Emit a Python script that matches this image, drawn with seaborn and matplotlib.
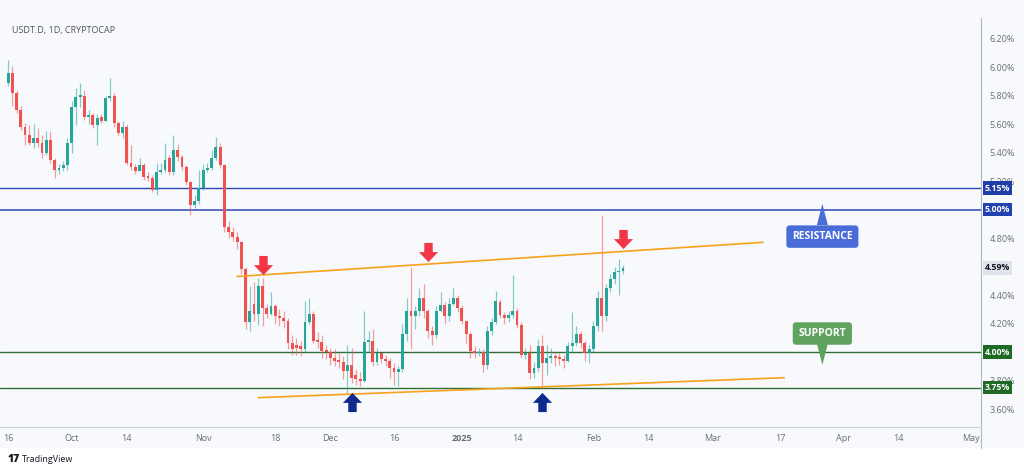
import matplotlib
matplotlib.use("Agg")
import numpy as np
import pandas as pd
import seaborn as sns
import matplotlib.pyplot as plt
import matplotlib.dates as mdates
from matplotlib.path import Path
from matplotlib.patches import Rectangle, Polygon
from matplotlib.transforms import blended_transform_factory

# daily candles of USDT.D from 2024-09-16
start_date = "2024-09-16"
opens = [5.89, 5.96, 5.82, 5.70, 5.58, 5.52, 5.47, 5.50, 5.47, 5.40,
         5.49, 5.35, 5.28, 5.29, 5.31, 5.47, 5.72, 5.79, 5.80, 5.65,
         5.66, 5.59, 5.65, 5.62, 5.78, 5.80, 5.61, 5.54, 5.58, 5.33,
         5.30, 5.27, 5.31, 5.23, 5.22, 5.14, 5.26, 5.28, 5.36, 5.26,
         5.42, 5.37, 5.30, 5.19, 5.03, 5.06, 5.15, 5.28, 5.29, 5.36,
         5.44, 5.31, 4.88, 4.84, 4.81, 4.77, 4.58, 4.21, 4.34, 4.27,
         4.46, 4.31, 4.27, 4.32, 4.25, 4.24, 4.22, 4.06, 4.05, 4.04,
         4.02, 4.21, 4.27, 4.08, 4.07, 4.01, 4.00, 3.96, 3.94, 3.93,
         3.87, 3.91, 3.84, 3.81, 3.80, 4.07, 4.08, 3.93, 3.99, 3.95,
         3.94, 3.89, 3.86, 3.88, 4.13, 4.29, 4.25, 4.29, 4.38, 4.29,
         4.15, 4.12, 4.29, 4.33, 4.25, 4.34, 4.38, 4.31, 4.22, 4.13,
         4.01, 3.99, 4.00, 3.91, 4.15, 4.21, 4.35, 4.26, 4.24, 4.26,
         4.29, 4.19, 3.98, 3.99, 3.85, 3.89, 4.04, 3.92, 3.96, 3.97,
         3.96, 3.95, 3.94, 4.04, 4.06, 4.13, 4.06, 3.99, 4.02, 4.18,
         4.38, 4.25, 4.45, 4.51, 4.56, 4.57]
highs = [6.05, 6.01, 5.84, 5.73, 5.61, 5.59, 5.60, 5.57, 5.52, 5.55,
         5.55, 5.36, 5.32, 5.34, 5.50, 5.76, 5.85, 5.89, 5.84, 5.70,
         5.68, 5.67, 5.67, 5.80, 5.92, 5.82, 5.62, 5.62, 5.60, 5.45,
         5.32, 5.36, 5.33, 5.26, 5.24, 5.33, 5.33, 5.47, 5.38, 5.52,
         5.46, 5.38, 5.31, 5.20, 5.10, 5.28, 5.32, 5.33, 5.42, 5.51,
         5.47, 5.32, 4.92, 4.88, 4.84, 4.78, 4.60, 4.46, 4.49, 4.52,
         4.52, 4.34, 4.42, 4.34, 4.30, 4.29, 4.24, 4.12, 4.10, 4.08,
         4.36, 4.38, 4.29, 4.14, 4.12, 4.05, 4.03, 4.02, 3.99, 3.97,
         4.05, 4.03, 3.88, 3.86, 4.29, 4.15, 4.16, 4.03, 3.99, 3.98,
         3.96, 3.92, 3.90, 4.20, 4.38, 4.60, 4.32, 4.45, 4.48, 4.30,
         4.18, 4.32, 4.42, 4.35, 4.38, 4.45, 4.40, 4.33, 4.22, 4.14,
         4.04, 4.03, 4.02, 4.18, 4.24, 4.43, 4.37, 4.28, 4.29, 4.54,
         4.31, 4.21, 4.03, 4.05, 3.93, 4.09, 4.12, 4.05, 4.03, 4.01,
         3.99, 3.98, 4.07, 4.28, 4.18, 4.15, 4.08, 4.05, 4.22, 4.43,
         4.96, 4.48, 4.55, 4.60, 4.65, 4.61]
lows = [5.87, 5.73, 5.68, 5.56, 5.45, 5.45, 5.43, 5.44, 5.36, 5.38,
        5.33, 5.22, 5.25, 5.27, 5.28, 5.40, 5.59, 5.72, 5.63, 5.60,
        5.57, 5.45, 5.61, 5.62, 5.76, 5.58, 5.52, 5.50, 5.31, 5.28,
        5.25, 5.27, 5.21, 5.20, 5.12, 5.10, 5.25, 5.26, 5.24, 5.24,
        5.34, 5.28, 5.17, 4.96, 5.01, 5.04, 5.14, 5.26, 5.28, 5.35,
        5.29, 4.84, 4.80, 4.78, 4.72, 4.55, 4.16, 4.15, 4.22, 4.19,
        4.18, 4.24, 4.26, 4.20, 4.18, 4.17, 4.02, 3.98, 3.98, 3.97,
        3.99, 4.20, 4.06, 4.03, 3.96, 3.95, 3.91, 3.90, 3.89, 3.81,
        3.71, 3.78, 3.77, 3.76, 3.79, 4.00, 3.90, 3.91, 3.92, 3.90,
        3.82, 3.77, 3.76, 3.86, 4.08, 4.02, 4.16, 4.25, 4.24, 4.10,
        4.05, 4.10, 4.28, 4.20, 4.22, 4.33, 4.28, 4.20, 4.06, 3.96,
        3.96, 3.97, 3.86, 3.88, 4.12, 4.20, 4.24, 4.20, 4.21, 4.24,
        4.17, 3.96, 3.95, 3.81, 3.82, 3.86, 3.75, 3.84, 3.92, 3.90,
        3.91, 3.89, 3.93, 4.00, 4.04, 4.03, 3.94, 3.92, 3.99, 4.15,
        4.15, 4.22, 4.42, 4.48, 4.40, 4.55]
closes = [5.96, 5.82, 5.70, 5.58, 5.52, 5.47, 5.50, 5.47, 5.40, 5.49,
          5.35, 5.28, 5.29, 5.31, 5.47, 5.72, 5.79, 5.80, 5.65, 5.66,
          5.59, 5.64, 5.62, 5.78, 5.80, 5.61, 5.54, 5.58, 5.33, 5.30,
          5.27, 5.31, 5.23, 5.22, 5.14, 5.26, 5.28, 5.35, 5.26, 5.42,
          5.37, 5.30, 5.19, 5.03, 5.06, 5.15, 5.28, 5.29, 5.36, 5.44,
          5.31, 4.88, 4.84, 4.81, 4.77, 4.58, 4.21, 4.29, 4.27, 4.46,
          4.31, 4.27, 4.32, 4.25, 4.24, 4.22, 4.06, 4.02, 4.03, 4.02,
          4.21, 4.27, 4.08, 4.07, 4.01, 4.00, 3.96, 3.94, 3.93, 3.87,
          3.91, 3.82, 3.81, 3.80, 4.07, 4.08, 3.93, 3.99, 3.95, 3.94,
          3.89, 3.86, 3.88, 4.13, 4.29, 4.25, 4.29, 4.38, 4.29, 4.15,
          4.12, 4.29, 4.33, 4.25, 4.34, 4.38, 4.31, 4.22, 4.13, 4.01,
          3.99, 4.00, 3.91, 4.15, 4.21, 4.36, 4.26, 4.24, 4.26, 4.29,
          4.19, 3.98, 3.99, 3.85, 3.89, 4.04, 3.92, 3.96, 3.97, 3.96,
          3.95, 3.94, 4.04, 4.06, 4.13, 4.06, 3.99, 4.02, 4.18, 4.38,
          4.25, 4.45, 4.51, 4.56, 4.57, 4.59]

# horizontal levels
level_values = [5.15, 5.00, 4.00, 3.75]
level_colors = ["#2a49b5", "#5b6dc8", "#2f6f35", "#2f6f35"]
level_box_colors = ["#1f3ea8", "#2242b0", "#1e6a24", "#1e6a24"]
last_price = 4.59

# trend lines
upper_trend_dates = ["2024-11-09", "2025-03-13"]
upper_trend_values = [4.53, 4.77]
lower_trend_dates = ["2024-11-14", "2025-03-18"]
lower_trend_values = [3.68, 3.82]

# arrows
sell_dates = ["2024-11-15", "2024-12-24", "2025-02-08"]
sell_values = [4.61, 4.705, 4.79]
buy_dates = ["2024-12-06", "2025-01-20"]
buy_values = [3.65, 3.65]

tick_dates = ["2024-09-16", "2024-10-01", "2024-10-14", "2024-11-01", "2024-11-18",
              "2024-12-01", "2024-12-16", "2025-01-01", "2025-01-14", "2025-02-01",
              "2025-02-14", "2025-03-01", "2025-03-17", "2025-04-01", "2025-04-14",
              "2025-05-01"]
tick_labels = ["16", "Oct", "14", "Nov", "18", "Dec", "16", "2025", "14", "Feb",
               "14", "Mar", "17", "Apr", "14", "May"]
# 4.00, 4.60 and 5.00 sit under the price boxes
price_ticks = [3.60, 3.80, 4.20, 4.40, 4.80, 5.20, 5.40, 5.60, 5.80, 6.00, 6.20]

up_color = "#26a69a"
down_color = "#ef5350"
panel_color = "#f8f9fd"
text_color = "#6a6d78"

sns.set_style("white")
plt.rcParams["font.family"] = ["Open Sans", "DejaVu Sans"]

df = pd.DataFrame({"open": opens, "high": highs, "low": lows, "close": closes})
df["date"] = pd.date_range(start_date, periods=len(df), freq="D")
df["x"] = mdates.date2num(df["date"])
df["up"] = df["close"] >= df["open"]

fig = plt.figure(figsize=(10.24, 4.72), dpi=100)
fig.patch.set_facecolor("white")
fig.patches.append(Rectangle((0, 24 / 472), 1, 1, transform=fig.transFigure,
                             facecolor=panel_color, edgecolor="none", zorder=-5))

ax = fig.add_axes([0.0, 1 - 427 / 472, 981 / 1024, (427 - 18) / 472])
ax.set_zorder(2)
ax.set_facecolor(panel_color)

# candles
colors = np.where(df["up"], up_color, down_color)
ax.vlines(df["x"], df["low"], df["high"], colors=colors, linewidth=0.9, alpha=0.55, zorder=3)
body_low = np.minimum(df["open"], df["close"])
body_h = np.maximum(np.abs(df["close"] - df["open"]), 0.012)
ax.bar(df["x"], body_h, bottom=body_low, width=0.68, color=colors, linewidth=0, zorder=4)

# levels
for val, col in zip(level_values, level_colors):
    lw = 1.4 if val == 5.00 else 1.0
    ax.axhline(val, color=col, linewidth=lw, zorder=2)

# trend lines
for d, v in [(upper_trend_dates, upper_trend_values), (lower_trend_dates, lower_trend_values)]:
    sns.lineplot(x=mdates.date2num(pd.to_datetime(d)), y=v, ax=ax,
                 color="#f7a21b", linewidth=1.2, zorder=5)

# arrow markers
down_arrow = Path([(-0.22, 0.5), (0.22, 0.5), (0.22, 0.02), (0.5, 0.02), (0, -0.5),
                   (-0.5, 0.02), (-0.22, 0.02), (-0.22, 0.5)], closed=True)
up_arrow = Path([(x, -y) for x, y in down_arrow.vertices], closed=True)
sns.scatterplot(x=mdates.date2num(pd.to_datetime(sell_dates)), y=sell_values, ax=ax,
                marker=down_arrow, s=190, color="#f23645", linewidth=0, zorder=6)
sns.scatterplot(x=mdates.date2num(pd.to_datetime(buy_dates)), y=buy_values, ax=ax,
                marker=up_arrow, s=190, color="#0d2a8c", linewidth=0, zorder=6)

# callouts
callout_x = mdates.date2num(pd.Timestamp("2025-03-27"))
ax.add_patch(Polygon([(callout_x - 1.3, 4.89), (callout_x + 1.3, 4.89), (callout_x, 5.04)],
                     closed=True, facecolor="#4a6cd9", edgecolor="none", zorder=6))
ax.text(callout_x, 4.81, "RESISTANCE", ha="center", va="center", color="white",
        fontsize=7.5, fontweight="bold", zorder=7,
        bbox=dict(boxstyle="round,pad=0.55,rounding_size=0.3", facecolor="#4a6cd9", edgecolor="none"))
ax.add_patch(Polygon([(callout_x - 1.3, 4.06), (callout_x + 1.3, 4.06), (callout_x, 3.91)],
                     closed=True, facecolor="#5fa35f", edgecolor="none", zorder=6))
ax.text(callout_x, 4.13, "SUPPORT", ha="center", va="center", color="white",
        fontsize=7.5, fontweight="bold", zorder=7,
        bbox=dict(boxstyle="round,pad=0.55,rounding_size=0.3", facecolor="#5fa35f", edgecolor="none"))

# axes limits
x0 = mdates.date2num(pd.Timestamp(start_date)) - 1.9
x1 = mdates.date2num(pd.Timestamp("2024-10-01")) + 214.4
ax.set_xlim(x0, x1)
ax.set_ylim(3.474, 6.344)

ax.yaxis.tick_right()
ax.set_yticks(price_ticks)
ax.set_yticklabels([f"{t:.2f}%" for t in price_ticks])
ax.set_xticks(mdates.date2num(pd.to_datetime(tick_dates)))
ax.set_xticklabels(tick_labels)
for lab in ax.get_xticklabels():
    if lab.get_text() == "2025":
        lab.set_fontweight("bold")
        lab.set_color("#2a2e39")
ax.tick_params(axis="both", length=0, labelsize=6.5, labelcolor=text_color)
ax.tick_params(axis="y", pad=6)
ax.tick_params(axis="x", pad=5)
ax.set_xlabel("")
ax.set_ylabel("")
for side in ["top", "left"]:
    ax.spines[side].set_visible(False)
ax.spines["right"].set_color("#b2b5be")
ax.spines["bottom"].set_color("#d1d4dc")
ax.spines["right"].set_linewidth(0.8)
ax.spines["bottom"].set_linewidth(0.8)
fig.add_artist(plt.Line2D([981 / 1024, 981 / 1024], [24 / 472, 45 / 472],
                          transform=fig.transFigure, color="#b2b5be", linewidth=0.8))

# price labels on the right scale
tr = blended_transform_factory(ax.transAxes, ax.transData)
for val, col in zip(level_values, level_box_colors):
    ax.text(1.004, val, f"{val:.2f}%", transform=tr, ha="left", va="center", fontsize=6.3,
            color="white", fontweight="bold", clip_on=False, zorder=8,
            bbox=dict(boxstyle="square,pad=0.25", facecolor=col, edgecolor="none"))
ax.text(1.004, last_price, f"{last_price:.2f}%", transform=tr, ha="left", va="center",
        fontsize=6.3, color="#131722", fontweight="bold", clip_on=False, zorder=8,
        bbox=dict(boxstyle="square,pad=0.25", facecolor="#e0e3eb", edgecolor="none"))

fig.text(12 / 1024, 1 - 30 / 472, "USDT.D, 1D, CRYPTOCAP", fontsize=6.5,
         color="#50535e", va="center", ha="left")
fig.text(8 / 1024, 1 - 460 / 472, "17", fontsize=7.5, fontweight="heavy",
         color="#131722", va="center", ha="left")
fig.text(22 / 1024, 1 - 460 / 472, "TradingView", fontsize=6.5,
         color="#131722", va="center", ha="left")

fig.savefig("out.png", dpi=100, facecolor=fig.get_facecolor())
